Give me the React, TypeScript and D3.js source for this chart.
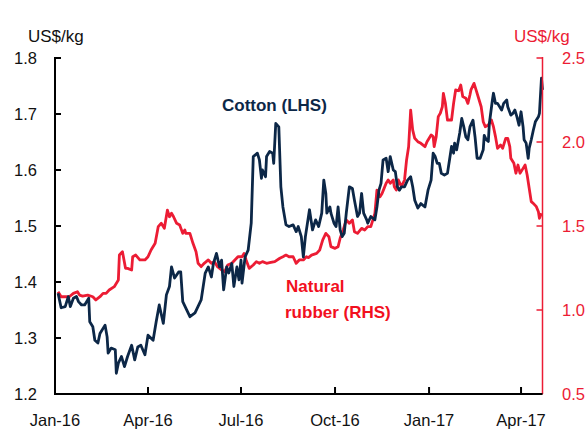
import React from "react";
import * as d3 from "d3";

// Cotton (LHS, US$/kg)
const cotton: [string, number][] = [
  ["2016-01-04",1.380],["2016-01-07",1.354],["2016-01-11",1.356],["2016-01-14",1.374],["2016-01-16",1.356],
  ["2016-01-19",1.371],["2016-01-22",1.374],["2016-01-24",1.365],["2016-01-27",1.359],["2016-01-30",1.359],
  ["2016-02-03",1.371],["2016-02-04",1.329],["2016-02-07",1.320],["2016-02-09",1.296],["2016-02-12",1.291],
  ["2016-02-14",1.308],["2016-02-19",1.323],["2016-02-21",1.302],["2016-02-22",1.273],["2016-02-25",1.282],
  ["2016-02-29",1.279],["2016-03-01",1.237],["2016-03-03",1.255],["2016-03-06",1.267],["2016-03-09",1.249],
  ["2016-03-12",1.267],["2016-03-16",1.287],["2016-03-19",1.261],["2016-03-22",1.284],["2016-03-25",1.287],
  ["2016-03-29",1.270],["2016-04-01",1.305],["2016-04-06",1.296],["2016-04-09",1.329],["2016-04-12",1.359],
  ["2016-04-16",1.326],["2016-04-19",1.377],["2016-04-22",1.392],["2016-04-24",1.427],["2016-04-27",1.407],
  ["2016-05-01",1.418],["2016-05-03",1.418],["2016-05-05",1.365],["2016-05-12",1.338],["2016-05-17",1.345],
  ["2016-05-23",1.368],["2016-05-27",1.416],["2016-05-30",1.427],["2016-06-02",1.409],["2016-06-04",1.433],
  ["2016-06-07",1.451],["2016-06-10",1.427],["2016-06-12",1.439],["2016-06-14",1.386],["2016-06-17",1.427],
  ["2016-06-19",1.416],["2016-06-22",1.433],["2016-06-24",1.392],["2016-06-27",1.427],["2016-06-29",1.404],
  ["2016-07-01",1.439],["2016-07-02",1.398],["2016-07-05",1.445],["2016-07-08",1.457],["2016-07-11",1.505],
  ["2016-07-13",1.624],["2016-07-17",1.630],["2016-07-19",1.618],["2016-07-21",1.585],["2016-07-22",1.600],
  ["2016-07-25",1.588],["2016-07-26",1.624],["2016-07-29",1.633],["2016-08-01",1.630],["2016-08-02",1.612],
  ["2016-08-04",1.683],["2016-08-07",1.677],["2016-08-09",1.570],["2016-08-11",1.534],["2016-08-14",1.502],
  ["2016-08-17",1.499],["2016-08-21",1.502],["2016-08-24",1.490],["2016-08-26",1.499],["2016-08-29",1.481],
  ["2016-08-31",1.445],["2016-09-02",1.481],["2016-09-06",1.529],["2016-09-09",1.493],["2016-09-12",1.511],
  ["2016-09-15",1.499],["2016-09-18",1.523],["2016-09-20",1.582],["2016-09-22",1.558],["2016-09-23",1.523],
  ["2016-09-26",1.534],["2016-09-27",1.523],["2016-09-30",1.505],["2016-10-02",1.499],["2016-10-04",1.534],
  ["2016-10-06",1.493],["2016-10-08",1.481],["2016-10-10",1.487],["2016-10-12",1.523],["2016-10-15",1.570],
  ["2016-10-18",1.567],["2016-10-20",1.546],["2016-10-23",1.517],["2016-10-25",1.523],["2016-10-27",1.558],
  ["2016-10-29",1.523],["2016-11-01",1.511],["2016-11-02",1.505],["2016-11-05",1.517],["2016-11-09",1.511],
  ["2016-11-11",1.534],["2016-11-13",1.564],["2016-11-15",1.576],["2016-11-17",1.618],["2016-11-20",1.621],
  ["2016-11-22",1.597],["2016-11-24",1.624],["2016-11-27",1.600],["2016-11-29",1.597],["2016-12-01",1.570],
  ["2016-12-03",1.564],["2016-12-05",1.570],["2016-12-08",1.570],["2016-12-11",1.582],["2016-12-14",1.588],
  ["2016-12-16",1.570],["2016-12-18",1.546],["2016-12-21",1.532],["2016-12-24",1.540],["2016-12-28",1.534],
  ["2016-12-31",1.564],["2017-01-03",1.582],["2017-01-05",1.630],["2017-01-07",1.624],["2017-01-09",1.612],
  ["2017-01-11",1.612],["2017-01-13",1.594],["2017-01-16",1.591],["2017-01-19",1.594],["2017-01-21",1.618],
  ["2017-01-23",1.642],["2017-01-25",1.630],["2017-01-26",1.648],["2017-01-28",1.636],["2017-01-31",1.666],
  ["2017-02-02",1.692],["2017-02-04",1.677],["2017-02-06",1.659],["2017-02-08",1.654],["2017-02-10",1.677],
  ["2017-02-13",1.689],["2017-02-15",1.659],["2017-02-17",1.621],["2017-02-20",1.621],["2017-02-23",1.636],
  ["2017-02-24",1.662],["2017-02-26",1.654],["2017-02-28",1.651],["2017-03-01",1.683],["2017-03-04",1.725],
  ["2017-03-05",1.737],["2017-03-07",1.719],["2017-03-09",1.719],["2017-03-13",1.707],["2017-03-15",1.719],
  ["2017-03-18",1.725],["2017-03-19",1.713],["2017-03-22",1.698],["2017-03-24",1.701],["2017-03-26",1.707],
  ["2017-03-28",1.695],["2017-03-30",1.680],["2017-04-01",1.704],["2017-04-03",1.677],["2017-04-04",1.654],
  ["2017-04-06",1.648],["2017-04-08",1.621],["2017-04-09",1.639],["2017-04-11",1.654],["2017-04-13",1.671],
  ["2017-04-15",1.686],["2017-04-18",1.695],["2017-04-19",1.701],["2017-04-21",1.764],["2017-04-22",1.743],
];

// Natural rubber (RHS, US$/kg)
const rubber: [string, number][] = [
  ["2016-01-04",1.109],["2016-01-07",1.079],["2016-01-12",1.079],["2016-01-15",1.079],["2016-01-19",1.099],
  ["2016-01-23",1.109],["2016-01-25",1.089],["2016-01-28",1.083],["2016-02-02",1.089],["2016-02-07",1.079],
  ["2016-02-10",1.060],["2016-02-14",1.079],["2016-02-17",1.099],["2016-02-20",1.099],["2016-02-23",1.119],
  ["2016-02-28",1.139],["2016-03-03",1.179],["2016-03-04",1.327],["2016-03-07",1.347],["2016-03-10",1.248],
  ["2016-03-12",1.248],["2016-03-16",1.238],["2016-03-17",1.317],["2016-03-20",1.327],["2016-03-24",1.298],
  ["2016-03-29",1.298],["2016-04-01",1.317],["2016-04-04",1.357],["2016-04-08",1.397],["2016-04-11",1.496],
  ["2016-04-14",1.516],["2016-04-17",1.486],["2016-04-20",1.595],["2016-04-22",1.555],["2016-04-24",1.576],
  ["2016-04-26",1.555],["2016-04-29",1.516],["2016-05-02",1.506],["2016-05-05",1.456],["2016-05-07",1.476],
  ["2016-05-08",1.456],["2016-05-12",1.456],["2016-05-15",1.397],["2016-05-18",1.347],["2016-05-20",1.278],
  ["2016-05-23",1.258],["2016-05-26",1.278],["2016-05-30",1.298],["2016-06-02",1.278],["2016-06-05",1.288],
  ["2016-06-08",1.258],["2016-06-12",1.238],["2016-06-15",1.228],["2016-06-18",1.268],["2016-06-22",1.278],
  ["2016-06-25",1.298],["2016-06-28",1.317],["2016-07-02",1.317],["2016-07-04",1.337],["2016-07-06",1.298],
  ["2016-07-09",1.248],["2016-07-13",1.268],["2016-07-16",1.288],["2016-07-19",1.278],["2016-07-22",1.288],
  ["2016-07-26",1.278],["2016-07-29",1.282],["2016-08-03",1.288],["2016-08-08",1.308],["2016-08-11",1.317],
  ["2016-08-14",1.327],["2016-08-17",1.317],["2016-08-21",1.317],["2016-08-24",1.278],["2016-08-27",1.298],
  ["2016-08-31",1.298],["2016-09-03",1.317],["2016-09-05",1.312],["2016-09-08",1.327],["2016-09-13",1.337],
  ["2016-09-16",1.357],["2016-09-19",1.417],["2016-09-22",1.456],["2016-09-25",1.436],["2016-09-27",1.377],
  ["2016-10-01",1.367],["2016-10-04",1.377],["2016-10-06",1.427],["2016-10-09",1.476],["2016-10-12",1.536],
  ["2016-10-15",1.516],["2016-10-18",1.536],["2016-10-20",1.466],["2016-10-23",1.456],["2016-10-27",1.486],
  ["2016-10-30",1.476],["2016-11-02",1.496],["2016-11-05",1.496],["2016-11-09",1.575],["2016-11-11",1.714],
  ["2016-11-14",1.674],["2016-11-16",1.694],["2016-11-18",1.724],["2016-11-20",1.754],["2016-11-22",1.774],
  ["2016-11-24",1.754],["2016-11-27",1.774],["2016-11-28",1.734],["2016-11-30",1.714],["2016-12-02",1.774],
  ["2016-12-05",1.734],["2016-12-08",1.774],["2016-12-10",1.893],["2016-12-12",1.972],["2016-12-14",2.190],
  ["2016-12-16",2.071],["2016-12-18",2.022],["2016-12-21",2.002],["2016-12-24",1.992],["2016-12-28",1.972],
  ["2016-12-30",2.002],["2017-01-03",2.042],["2017-01-05",2.032],["2017-01-06",1.972],["2017-01-08",2.032],
  ["2017-01-10",2.151],["2017-01-12",2.171],["2017-01-14",2.210],["2017-01-15",2.290],["2017-01-17",2.230],
  ["2017-01-19",2.131],["2017-01-23",2.131],["2017-01-25",2.230],["2017-01-27",2.310],["2017-01-30",2.305],
  ["2017-02-01",2.339],["2017-02-03",2.270],["2017-02-06",2.260],["2017-02-08",2.230],["2017-02-10",2.280],
  ["2017-02-11",2.310],["2017-02-14",2.349],["2017-02-16",2.310],["2017-02-19",2.250],["2017-02-21",2.210],
  ["2017-02-23",2.121],["2017-02-25",2.091],["2017-02-28",2.101],["2017-03-03",2.131],["2017-03-05",2.091],
  ["2017-03-07",2.032],["2017-03-09",1.962],["2017-03-12",1.982],["2017-03-14",1.962],["2017-03-17",2.022],
  ["2017-03-19",2.022],["2017-03-21",1.972],["2017-03-22",1.903],["2017-03-25",1.873],["2017-03-27",1.814],
  ["2017-03-29",1.863],["2017-03-31",1.814],["2017-04-03",1.843],["2017-04-05",1.863],["2017-04-07",1.804],
  ["2017-04-09",1.724],["2017-04-11",1.645],["2017-04-13",1.635],["2017-04-16",1.615],["2017-04-18",1.585],
  ["2017-04-19",1.546],["2017-04-21",1.576],
];

const leftTicks = [1.2, 1.3, 1.4, 1.5, 1.6, 1.7, 1.8];
const rightTicks = [0.5, 1.0, 1.5, 2.0, 2.5];
const xTickDates = ["2016-01-01", "2016-04-01", "2016-07-01", "2016-10-01", "2017-01-01", "2017-04-01"];
const xTickLabels = ["Jan-16", "Apr-16", "Jul-16", "Oct-16", "Jan-17", "Apr-17"];

const NAVY = "#0c2747";
const RED = "#ec1c34";
const FONT = "'Liberation Sans', Arial, sans-serif";

export default function App() {
  const W = 588, H = 429;
  const left = 55, right = 542.5, top = 58, bottom = 394;
  const parse = d3.timeParse("%Y-%m-%d");
  const x = d3.scaleTime()
    .domain([parse("2016-01-01")!, parse("2017-04-22")!])
    .range([left, right]);
  const yL = d3.scaleLinear().domain([1.2, 1.8]).range([bottom, top]);
  const yR = d3.scaleLinear().domain([0.5, 2.5]).range([bottom, top]);

  const lineL = d3.line<[string, number]>()
    .x(d => x(parse(d[0])!))
    .y(d => yL(d[1]));
  const lineR = d3.line<[string, number]>()
    .x(d => x(parse(d[0])!))
    .y(d => yR(d[1]));

  return (
    <svg width={W} height={H} style={{ position: "absolute", left: 0, top: 0, background: "#fff" }}
      fontFamily={FONT}>
      <rect x={0} y={0} width={W} height={H} fill="#fff" />
      {/* series */}
      <path d={lineR(rubber) || ""} fill="none" stroke={RED} strokeWidth={2.8} strokeLinejoin="round" />
      <path d={lineL(cotton) || ""} fill="none" stroke={NAVY} strokeWidth={2.8} strokeLinejoin="round" />

      {/* left axis */}
      <line x1={left} x2={left} y1={top - 1} y2={bottom} stroke="#000" strokeWidth={2} />
      {leftTicks.map(t => (
        <g key={"l" + t}>
          <line x1={left} x2={left + 6} y1={yL(t)} y2={yL(t)} stroke="#000" strokeWidth={2} />
          <text x={37} y={yL(t)} dy="0.36em" textAnchor="end" fontSize={16.5} fill="#111">{t.toFixed(1)}</text>
        </g>
      ))}
      <text x={28} y={42} fontSize={17} fill="#111">US$/kg</text>

      {/* right axis */}
      <line x1={right} x2={right} y1={top - 1} y2={bottom} stroke={RED} strokeWidth={1.5} />
      {rightTicks.map(t => (
        <g key={"r" + t}>
          <line x1={right - 6} x2={right} y1={yR(t)} y2={yR(t)} stroke={RED} strokeWidth={1.5} />
          <text x={562} y={yR(t)} dy="0.36em" textAnchor="start" fontSize={16.5} fill={RED}>{t.toFixed(1)}</text>
        </g>
      ))}
      <text x={514} y={42} fontSize={17} fill={RED}>US$/kg</text>

      {/* bottom axis */}
      <line x1={left - 1} x2={right} y1={bottom} y2={bottom} stroke="#000" strokeWidth={2} />
      {xTickDates.map((d, i) => (
        <g key={"x" + d}>
          <line x1={x(parse(d)!)} x2={x(parse(d)!)} y1={bottom} y2={bottom - 7} stroke="#000" strokeWidth={2} />
          <text x={x(parse(d)!)} y={426} textAnchor="middle" fontSize={16.5} fill="#111">{xTickLabels[i]}</text>
        </g>
      ))}

      {/* annotations */}
      <text x={222} y={111} fontSize={17} fontWeight="bold" fill={NAVY}>Cotton (LHS)</text>
      <text x={286} y={292} fontSize={17} fontWeight="bold" fill="#f2101e">Natural</text>
      <text x={285} y={318} fontSize={17} fontWeight="bold" fill="#f2101e">rubber (RHS)</text>
    </svg>
  );
}
